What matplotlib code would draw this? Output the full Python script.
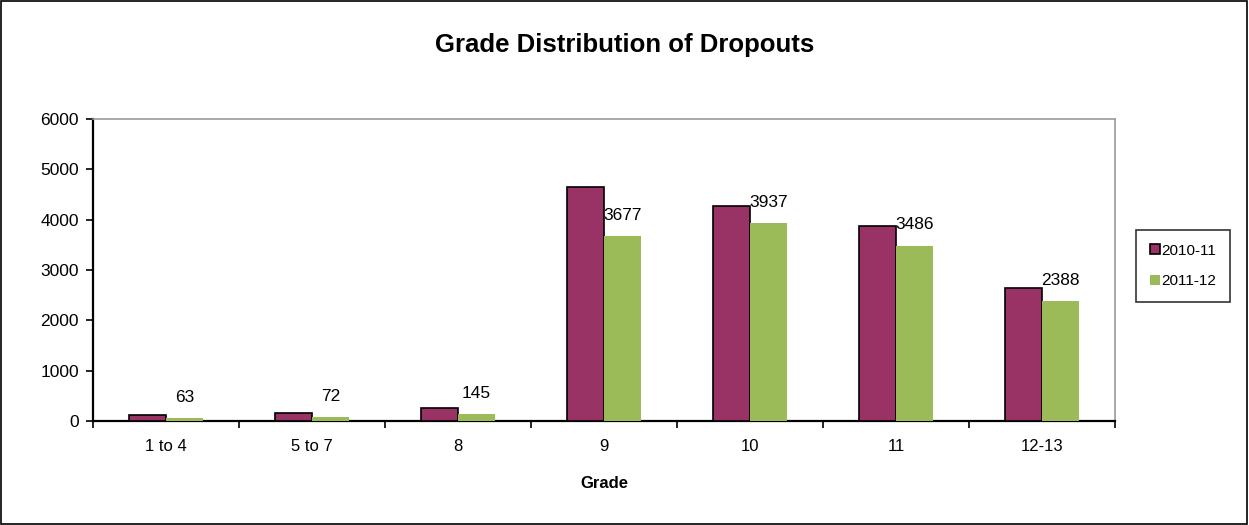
import matplotlib.pyplot as plt
from matplotlib.patches import Rectangle
import numpy as np

# data
grades = ['1 to 4', '5 to 7', '8', '9', '10', '11', '12-13']
y2010 = [110, 150, 250, 4650, 4270, 3880, 2650]
y2011 = [63, 72, 145, 3677, 3937, 3486, 2388]

plt.rcParams['font.family'] = ['Liberation Sans', 'DejaVu Sans']

fig = plt.figure(figsize=(12.49, 5.25), dpi=100)
ax = fig.add_axes([93 / 1249, 1 - 421 / 525, (1115 - 93) / 1249, (421 - 119) / 525])

# figure border
fig.patches.append(Rectangle((0.001, 0.002), 0.997, 0.996, transform=fig.transFigure,
                             fill=False, edgecolor='black', linewidth=1.2))

x = np.arange(len(grades))
w = 0.255
ax.bar(x - w / 2, y2010, w, color='#993366', edgecolor='black', linewidth=1.2,
       label='2010-11', zorder=3)
ax.bar(x + w / 2, y2011, w, color='#9BBB59', label='2011-12', zorder=3)

for xi, v in zip(x, y2011):
    ax.text(xi + w / 2, v + 260, str(v), ha='center', va='bottom', fontsize=12.5)

ax.set_xlim(-0.5, len(grades) - 0.5)
ax.set_ylim(0, 6000)
ax.set_yticks(range(0, 6001, 1000))
ax.set_xticks(x)
ax.set_xticklabels(grades, fontsize=12)
ax.tick_params(axis='x', length=0, pad=13)
ax.set_xticks(np.arange(-0.5, len(grades)), minor=True)
ax.tick_params(axis='x', which='minor', length=5, width=1.2, direction='out')
ax.tick_params(axis='y', labelsize=12.5, length=5, width=1.2, direction='out', pad=5)

for s in ['top', 'right']:
    ax.spines[s].set_color('#999999')
    ax.spines[s].set_linewidth(1.2)
for s in ['left', 'bottom']:
    ax.spines[s].set_color('black')
    ax.spines[s].set_linewidth(1.6)

ax.set_xlabel('Grade', fontsize=12, fontweight='bold', labelpad=16)
fig.text(0.5, 1 - 45 / 525, 'Grade Distribution of Dropouts', ha='center', va='center',
         fontsize=18.5, fontweight='bold')

leg = fig.legend(loc='center left', bbox_to_anchor=(1136 / 1249, 1 - 266 / 525),
                 borderaxespad=0, frameon=True, fancybox=False, edgecolor='black',
                 fontsize=11, handlelength=0.65, handleheight=0.65, handletextpad=0.1,
                 labelspacing=1.1, borderpad=0.9)
leg.get_frame().set_linewidth(1.2)

fig.savefig('out.png', dpi=100)
